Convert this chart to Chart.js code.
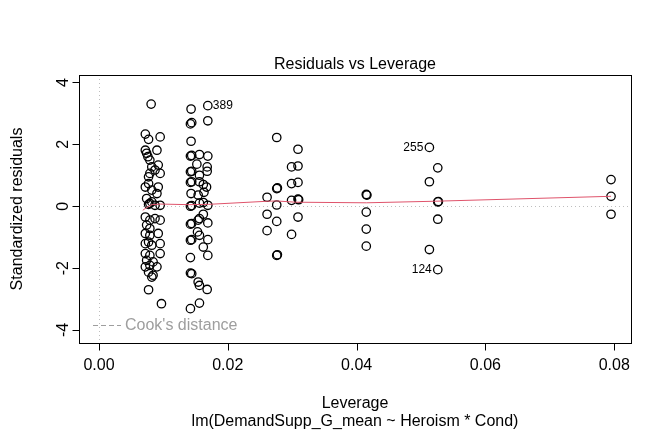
<!DOCTYPE html>
<html>
<head>
<meta charset="utf-8">
<script src="https://cdn.jsdelivr.net/npm/chart.js@4"></script>
<style>
  html, body { margin: 0; padding: 0; background: #fff; }
  canvas { display: block; }
</style>
</head>
<body>
<canvas id="levChart" width="672" height="432"></canvas>
<script>
// Leverage (hat values) and standardized residuals
const leverage = [
  // first cluster
  0.0081, 0.0072, 0.0077, 0.0095, 0.0072, 0.0090, 0.0074, 0.0076, 0.0079,
  0.0092, 0.0087, 0.0082, 0.0079, 0.0077, 0.0095, 0.0077, 0.0072, 0.0092,
  0.0082, 0.0090, 0.0074, 0.0079, 0.0087, 0.0095, 0.0077, 0.0082, 0.0072,
  0.0079, 0.0087, 0.0095, 0.0074, 0.0079, 0.0072, 0.0092, 0.0079, 0.0077,
  0.0072, 0.0082, 0.0095, 0.0072, 0.0079, 0.0095, 0.0074, 0.0084, 0.0079,
  0.0072, 0.0090, 0.0077, 0.0082, 0.0084, 0.0077, 0.0097,
  // second cluster
  0.0143, 0.0169, 0.0142, 0.0144, 0.0169, 0.0143, 0.0142, 0.0144, 0.0156,
  0.0169, 0.0152, 0.0168, 0.0142, 0.0144, 0.0156, 0.0168, 0.0142, 0.0144,
  0.0156, 0.0162, 0.0167, 0.0143, 0.0154, 0.0163, 0.0142, 0.0144, 0.0156,
  0.0169, 0.0162, 0.0162, 0.0156, 0.0142, 0.0144, 0.0154, 0.0169, 0.0153,
  0.0156, 0.0142, 0.0144, 0.0169, 0.0162, 0.0142, 0.0169, 0.0142, 0.0144,
  0.0154, 0.0156, 0.0168, 0.0142, 0.0156,
  // third cluster
  0.0276, 0.0309, 0.0299, 0.0309, 0.0299, 0.0309, 0.0276, 0.0277, 0.0261,
  0.0299, 0.0309, 0.0310, 0.0276, 0.0261, 0.0276, 0.0309, 0.0261, 0.0299,
  0.0276, 0.0277,
  // high leverage groups
  0.0415, 0.0416, 0.0415, 0.0415, 0.0415,
  0.0513, 0.0526, 0.0513, 0.0526, 0.0527, 0.0526, 0.0513, 0.0526,
  0.0795, 0.0795, 0.0795
];
const stdResid = [
  3.30, 2.33, 2.16, 2.24, 1.81, 1.81, 1.71, 1.60, 1.49,
  1.33, 1.17, 1.27, 1.06, 0.95, 1.06, 0.73, 0.62, 0.62,
  0.52, 0.41, 0.25, 0.09, 0.03, 0.03, 0.06, 0.14, -0.35,
  -0.45, -0.40, -0.45, -0.61, -0.72, -0.88, -0.88, -0.94, -1.16,
  -1.21, -1.26, -1.21, -1.53, -1.59, -1.53, -1.75, -1.80, -1.91,
  -1.96, -1.96, -2.13, -2.29, -2.23, -2.70, -3.15,

  3.14, 3.25, 2.66, 2.70, 2.76, 2.10, 1.62, 1.64, 1.67,
  1.62, 1.36, 1.27, 1.11, 1.13, 1.00, 1.13, 0.77, 0.79,
  0.79, 0.70, 0.62, 0.41, 0.36, 0.45, 0.00, 0.02, 0.10,
  0.03, 0.12, -0.26, -0.40, -0.58, -0.56, -0.45, -0.54, -0.83,
  -0.94, -1.10, -1.08, -1.08, -1.32, -1.66, -1.59, -2.16, -2.18,
  -2.45, -2.56, -2.69, -3.31, -3.13,

  2.22, 1.84, 1.27, 1.30, 0.73, 0.77, 0.57, 0.59, 0.29,
  0.19, 0.23, 0.21, 0.04, -0.26, -0.49, -0.35, -0.79, -0.91,
  -1.59, -1.57,

  0.38, 0.36, -0.19, -0.74, -1.29,
  1.90, 1.24, 0.79, 0.14, 0.15, -0.42, -1.40, -2.05,
  0.86, 0.32, -0.26
];

// loess smoother (red line)
const smoothLev = [0.0068, 0.0075, 0.0082, 0.0095, 0.0140, 0.0170, 0.0261, 0.0276, 0.0305, 0.0415, 0.0520, 0.0795];
const smoothRes = [-0.13, -0.03, 0.05, 0.07, 0.05, 0.06, 0.16, 0.17, 0.13, 0.11, 0.16, 0.32];

// labelled observations
const labelIds = ['389', '255', '124'];
const labelLev = [0.0169, 0.0513, 0.0526];
const labelRes = [3.25, 1.90, -2.05];
const labelSide = ['right', 'left', 'left'];

const xTicks = [0, 0.02, 0.04, 0.06, 0.08];
const xTickLabels = ['0.00', '0.02', '0.04', '0.06', '0.08'];
const yTicks = [-4, -2, 0, 2, 4];
const yTickLabels = ['-4', '-2', '0', '2', '4'];

const FONT = '"Liberation Sans", Arial, Helvetica, sans-serif';

// R-style box, axes, guides and text
const rDecor = {
  id: 'rDecor',
  beforeDatasetsDraw(chart) {
    const { ctx, chartArea: a, scales: { x, y } } = chart;
    ctx.save();
    ctx.strokeStyle = '#bebebe';
    ctx.lineWidth = 1;
    ctx.setLineDash([1, 3]);
    const y0 = Math.round(y.getPixelForValue(0)) + 0.5;
    const x0 = Math.round(x.getPixelForValue(0)) + 0.5;
    ctx.beginPath();
    ctx.moveTo(a.left, y0); ctx.lineTo(a.right, y0);
    ctx.moveTo(x0, a.top); ctx.lineTo(x0, a.bottom);
    ctx.stroke();

    // Cook's distance legend
    const ly = a.bottom - 18;
    ctx.strokeStyle = '#9e9e9e';
    ctx.setLineDash([5, 3]);
    ctx.beginPath();
    ctx.moveTo(a.left + 14, ly + 0.5); ctx.lineTo(a.left + 42, ly + 0.5);
    ctx.stroke();
    ctx.setLineDash([]);
    ctx.fillStyle = '#9e9e9e';
    ctx.font = '16px ' + FONT;
    ctx.textBaseline = 'middle';
    ctx.textAlign = 'left';
    ctx.fillText("Cook's distance", a.left + 46, ly + 1);
    ctx.restore();
  },
  afterDraw(chart) {
    const { ctx, chartArea: a, scales: { x, y } } = chart;
    ctx.save();
    ctx.strokeStyle = '#000';
    ctx.fillStyle = '#000';
    ctx.lineWidth = 1;

    // box
    ctx.strokeRect(Math.round(a.left) + 0.5, Math.round(a.top) + 0.5,
      Math.round(a.right - a.left), Math.round(a.bottom - a.top));

    ctx.font = '16px ' + FONT;

    // x axis
    const bx = Math.round(a.bottom) + 0.5;
    ctx.beginPath();
    ctx.moveTo(x.getPixelForValue(xTicks[0]), bx);
    ctx.lineTo(x.getPixelForValue(xTicks[xTicks.length - 1]), bx);
    xTicks.forEach(v => {
      const px = Math.round(x.getPixelForValue(v)) + 0.5;
      ctx.moveTo(px, bx); ctx.lineTo(px, bx + 7);
    });
    ctx.stroke();
    ctx.textAlign = 'center';
    ctx.textBaseline = 'middle';
    xTicks.forEach((v, i) => {
      ctx.fillText(xTickLabels[i], x.getPixelForValue(v), a.bottom + 23);
    });

    // y axis
    const lx = Math.round(a.left) + 0.5;
    ctx.beginPath();
    ctx.moveTo(lx, y.getPixelForValue(yTicks[0]));
    ctx.lineTo(lx, y.getPixelForValue(yTicks[yTicks.length - 1]));
    yTicks.forEach(v => {
      const py = Math.round(y.getPixelForValue(v)) + 0.5;
      ctx.moveTo(lx, py); ctx.lineTo(lx - 7, py);
    });
    ctx.stroke();
    yTicks.forEach((v, i) => {
      ctx.save();
      ctx.translate(a.left - 15, y.getPixelForValue(v));
      ctx.rotate(-Math.PI / 2);
      ctx.fillText(yTickLabels[i], 0, 0);
      ctx.restore();
    });

    // titles
    const cx = (a.left + a.right) / 2;
    ctx.fillText('Residuals vs Leverage', cx, a.top - 10);
    ctx.fillText('Leverage', cx, a.bottom + 61);
    ctx.fillText('lm(DemandSupp_G_mean ~ Heroism * Cond)', cx, a.bottom + 79);
    ctx.save();
    ctx.translate(18, (a.top + a.bottom) / 2);
    ctx.rotate(-Math.PI / 2);
    ctx.fillText('Standardized residuals', 0, 0);
    ctx.restore();

    // point labels
    ctx.font = '12px ' + FONT;
    labelIds.forEach((id, i) => {
      const px = x.getPixelForValue(labelLev[i]);
      const py = y.getPixelForValue(labelRes[i]);
      if (labelSide[i] === 'right') {
        ctx.textAlign = 'left';
        ctx.fillText(id, px + 5, py);
      } else {
        ctx.textAlign = 'right';
        ctx.fillText(id, px - 6, py);
      }
    });
    ctx.restore();
  }
};

const ctx = document.getElementById('levChart').getContext('2d');
new Chart(ctx, {
  type: 'scatter',
  data: {
    datasets: [
      {
        label: 'Residuals',
        data: leverage.map((v, i) => ({ x: v, y: stdResid[i] })),
        pointRadius: 4.2,
        pointBorderWidth: 1.3,
        pointBorderColor: '#000',
        pointBackgroundColor: 'rgba(0,0,0,0)',
        order: 1
      },
      {
        label: 'Smoother',
        type: 'line',
        data: smoothLev.map((v, i) => ({ x: v, y: smoothRes[i] })),
        borderColor: '#DF536B',
        borderWidth: 1,
        pointRadius: 0,
        tension: 0,
        fill: false,
        order: 0
      }
    ]
  },
  options: {
    responsive: false,
    animation: false,
    devicePixelRatio: 1,
    layout: {
      padding: { left: 79, right: 41, top: 75, bottom: 89 }
    },
    plugins: {
      legend: { display: false },
      tooltip: { enabled: false }
    },
    scales: {
      x: { type: 'linear', display: false, min: -0.0031, max: 0.0826 },
      y: { type: 'linear', display: false, min: -4.42, max: 4.24 }
    }
  },
  plugins: [rDecor]
});
</script>
</body>
</html>
